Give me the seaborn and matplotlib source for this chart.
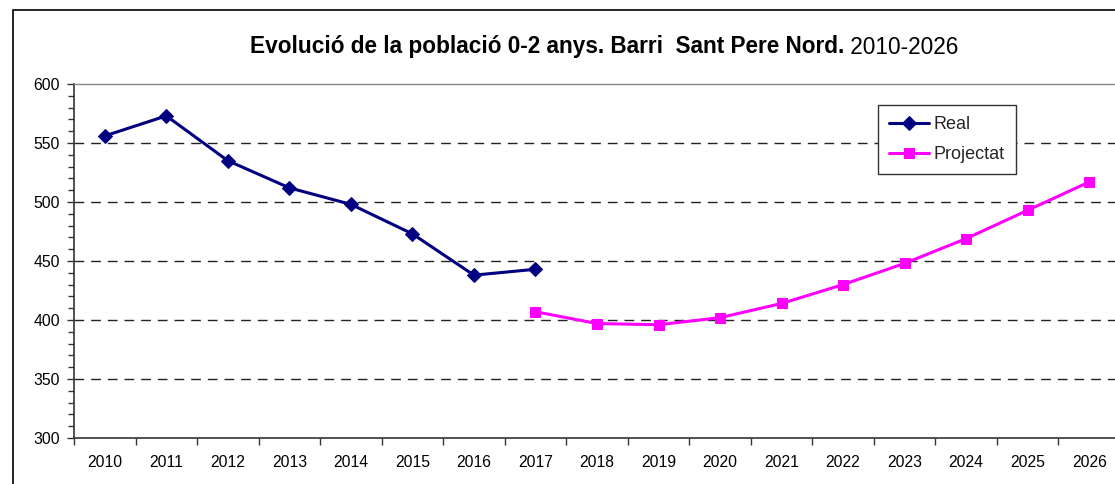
import matplotlib
matplotlib.use("Agg")
import matplotlib.pyplot as plt
import seaborn as sns
import pandas as pd
from matplotlib.patches import Rectangle
from matplotlib.ticker import MultipleLocator, FixedLocator

sns.set_theme(style="white")
plt.rcParams['font.family'] = ['Liberation Sans', 'DejaVu Sans']

years_real = [2010, 2011, 2012, 2013, 2014, 2015, 2016, 2017]
values_real = [556, 573, 535, 512, 498, 473, 438, 443]
years_proj = [2017, 2018, 2019, 2020, 2021, 2022, 2023, 2024, 2025, 2026]
values_proj = [407, 397, 396, 402, 414, 430, 448, 469, 493, 517]
tick_years = list(range(2010, 2027))

df_real = pd.DataFrame({"year": years_real, "value": values_real})
df_proj = pd.DataFrame({"year": years_proj, "value": values_proj})

W, H = 1115, 484
fig = plt.figure(figsize=(W / 100, H / 100), dpi=100)
fig.patch.set_facecolor("white")
ax = fig.add_axes([74 / W, 1 - 438 / H, (1120 - 74) / W, (438 - 84) / H])
ax.set_facecolor("white")

sns.lineplot(data=df_real, x="year", y="value", ax=ax, color="#000080",
             marker="D", markersize=7, linewidth=2.2, markeredgecolor="#000080",
             label="Real")
sns.lineplot(data=df_proj, x="year", y="value", ax=ax, color="#FF00FF",
             marker="s", markersize=7, linewidth=2.2, markeredgecolor="#FF00FF",
             label="Projectat")

ax.set_xlim(2009.5, 2026.5)
ax.set_ylim(300, 600)
ax.set_xlabel("")
ax.set_ylabel("")

ax.xaxis.set_major_locator(FixedLocator(tick_years))
ax.set_xticklabels([str(y) for y in tick_years])
ax.xaxis.set_minor_locator(FixedLocator([y - 0.5 for y in tick_years]))
ax.tick_params(axis="x", which="major", length=0, pad=12, labelsize=11.3, labelcolor="black")
ax.tick_params(axis="x", which="minor", length=5, width=1, color="#333333", direction="out", bottom=True)

ax.yaxis.set_major_locator(MultipleLocator(50))
ax.yaxis.set_minor_locator(MultipleLocator(10))
ax.tick_params(axis="y", which="major", length=5, width=1, color="#333333", direction="out",
               left=True, pad=5, labelsize=11.3, labelcolor="black")
ax.tick_params(axis="y", which="minor", length=4, width=1, color="#333333", direction="out", left=True)

for v in [350, 400, 450, 500, 550]:
    ax.axhline(v, color="#222222", linewidth=1, linestyle=(0, (7, 5)), zorder=0)

for s in ["left", "bottom"]:
    ax.spines[s].set_color("#333333")
    ax.spines[s].set_linewidth(1.2)
ax.spines["top"].set_color("#888888")
ax.spines["top"].set_linewidth(1)
ax.spines["right"].set_visible(False)

leg = ax.legend(loc="upper left", bbox_to_anchor=((878 - 74) / 1046, (438 - 105) / 354),
                borderaxespad=0, frameon=True, fancybox=False, framealpha=1,
                edgecolor="#333333", fontsize=13, handlelength=2.2, handletextpad=0.3,
                labelspacing=0.75, borderpad=0.6)
leg.get_frame().set_linewidth(1)

# outer border
fig.patches.append(Rectangle((12.5 / W, -0.1), 1.2, 1 - 10 / H + 0.1, transform=fig.transFigure,
                             fill=False, edgecolor="black", linewidth=1.2))

# title: bold part + normal part
fig.canvas.draw()
renderer = fig.canvas.get_renderer()
t1 = fig.text(0, 1 - 47 / H, "Evolució de la població 0-2 anys. Barri  Sant Pere Nord.",
              fontsize=16.3, fontweight="bold", va="center", ha="left", color="black")
t2 = fig.text(0, 1 - 47 / H, " 2010-2026", fontsize=16.3, va="center", ha="left", color="black")
w1 = t1.get_window_extent(renderer).width
w2 = t2.get_window_extent(renderer).width
total = w1 + w2
cx = 604
x0 = cx - total / 2
t1.set_x(x0 / W)
t2.set_x((x0 + w1) / W)

fig.savefig("out.png", dpi=100, facecolor="white")
